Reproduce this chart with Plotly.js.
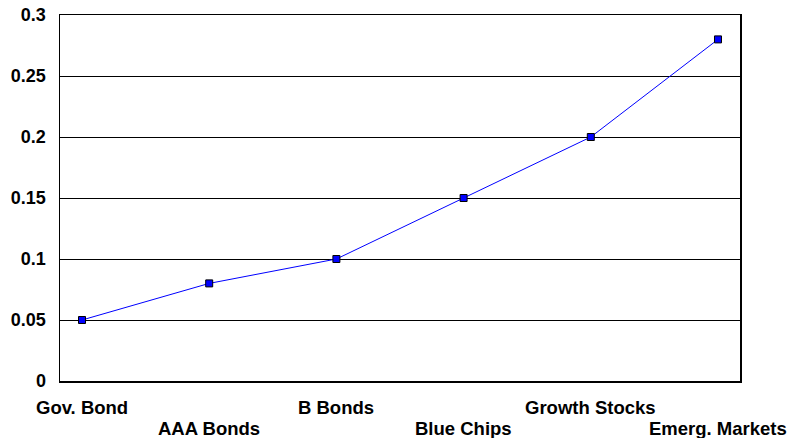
<!DOCTYPE html>
<html><head><meta charset="utf-8">
<script src="https://cdn.plot.ly/plotly-3.0.1.min.js"></script>
<style>html,body{margin:0;padding:0;background:#fff}#chart{width:789px;height:438px}</style>
</head><body><div id="chart"></div>
<script>
var categories = ["Gov. Bond", "AAA Bonds", "B Bonds", "Blue Chips", "Growth Stocks", "Emerg. Markets"];
var values = [0.05, 0.08, 0.10, 0.15, 0.20, 0.28];
var yTickVals = [0, 0.05, 0.1, 0.15, 0.2, 0.25, 0.3];
var yTickText = ["0", "0.05", "0.1", "0.15", "0.2", "0.25", "0.3"];

var tickFont = {family: "Liberation Sans, Arial, sans-serif", size: 18, color: "#000", weight: 700};
var catFont = {family: "Liberation Sans, Arial, sans-serif", size: 18.5, color: "#000", weight: 700};

var annotations = categories.map(function (c, i) {
  return {
    x: i, xref: "x", y: 0, yref: "paper",
    text: "<b>" + c + "</b>", showarrow: false,
    xanchor: "center", yanchor: "middle",
    yshift: (i % 2 === 0) ? -26 : -47,
    font: catFont
  };
});

var trace = {
  x: categories.map(function (c, i) { return i; }),
  y: values,
  type: "scatter",
  mode: "lines+markers",
  line: {color: "#0000ff", width: 1},
  marker: {symbol: "square", size: 7, color: "#0000ff", line: {color: "#000", width: 1}},
  hoverinfo: "none"
};

var layout = {
  width: 789, height: 438,
  margin: {l: 60, r: 49, t: 15, b: 57, pad: 0},
  paper_bgcolor: "#fff", plot_bgcolor: "#fff",
  showlegend: false,
  xaxis: {
    range: [-0.173, 5.173], showgrid: false, zeroline: false,
    showticklabels: false, ticks: "",
    showline: true, mirror: true, linecolor: "#000", linewidth: 1.5
  },
  yaxis: {
    range: [0, 0.3], tickvals: yTickVals,
    ticktext: yTickText.map(function (t) { return "<b>" + t + "</b>"; }),
    tickfont: tickFont, ticks: "", ticklabelstandoff: 9,
    showgrid: true, gridcolor: "#000", gridwidth: 1, zeroline: false,
    showline: true, mirror: true, linecolor: "#000", linewidth: 1.5
  },
  annotations: annotations
};

Plotly.newPlot("chart", [trace], layout, {staticPlot: true, displayModeBar: false});
</script>
</body></html>
